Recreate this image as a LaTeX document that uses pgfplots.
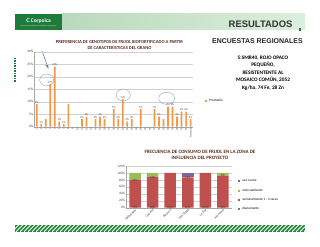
\documentclass[border=0pt]{standalone}
\usepackage{fontspec}
\setmainfont{Carlito}
\newfontfamily\arialf{Liberation Sans}
\usepackage{pgfplots}
\pgfplotsset{compat=1.18}
\definecolor{orangeb}{HTML}{F79646}
\definecolor{cred}{HTML}{C0504D}
\definecolor{cgreen}{HTML}{9BBB59}
\definecolor{cpurple}{HTML}{8064A2}
\definecolor{cblue}{HTML}{4F81BD}
\definecolor{hdrD}{HTML}{1E7B3C}
\definecolor{hdrL}{HTML}{B9D9BC}
\definecolor{hdrR}{HTML}{DCEEDD}
\definecolor{titc}{HTML}{5A2A1E}
\definecolor{tickc}{HTML}{404040}
\definecolor{ellc}{HTML}{8FA3C8}
\begin{document}
\begin{tikzpicture}[x=1bp,y=1bp]
\useasboundingbox (0,0) rectangle (320,247);
% header
\shade[left color=hdrL, right color=hdrR] (62,217) rectangle (305,233);
\fill[hdrD] (15,217) rectangle (62,233);
\node[white, font=\fontsize{5.5}{5.5}\selectfont\bfseries] at (38.5,226.5) {\textsf{C}\,Corpoica};
\node[white, font=\fontsize{1.6}{2}\selectfont] at (38.5,221) {Corporación Colombiana de Investigación Agropecuaria};
\node[font=\arialf\bfseries\fontsize{9.5}{10}\selectfont, text=black!80, anchor=east] at (296,222.5) {RESULTADOS};
\fill[hdrD] (298.5,216.3) rectangle (301,218.8);
\node[font=\arialf\bfseries\fontsize{7}{8}\selectfont, text=black!85] at (257.5,206.3) {ENCUESTAS REGIONALES};
% chart 1 title
\node[font=\bfseries\fontsize{4.6}{6}\selectfont, text=titc, align=center] at (119.5,202.3)
 {PREFERENCIA DE GENOTIPOS DE FRIJOL BIOFORTIFICADO A PARTIR\\DE CARACTERISTICAS DEL GRANO};
% right text
\node[font=\bfseries\fontsize{5.3}{7.5}\selectfont, align=center, anchor=north] at (263,194.5)
 {5:SMR40, ROJO OPACO\\PEQUEÑO,\\RESISTENTENTE AL\\MOSAICO COMÚN, 2052\\Kg/ha, 74 Fe, 28 Zn};
% decorations
\draw[hdrD, line width=1.3pt, dash pattern=on 1.5pt off 1pt] (15,189) -- (15,165);
\draw[-latex, cblue, line width=0.6pt] (42,196) -- (48.5,178);
% chart 1
\begin{axis}[at={(34.4bp,120.3bp)}, anchor=south west, scale only axis,
  width=158.5bp, height=75bp,
  ybar, bar width=1.7bp,
  xmin=0.5, xmax=35.5, ymin=0, ymax=30,
  ytick={0,5,...,30},
  yticklabel={\pgfmathprintnumber{\tick}\%},
  /pgf/number format/assume math mode=true,
  xtick={1,...,35},
  xticklabels={1,2,3,4,5,6,7,8,9,10,11,12,13,14,15,16,17,18,19,20,21,22,23,24,25,26,27,28,29,30,31,32,33,34,Promedio},
  xticklabel style={rotate=90, anchor=east, font=\fontsize{2.6}{3}\selectfont, text=tickc, inner sep=0.8pt},
  yticklabel style={font=\fontsize{3.4}{4}\selectfont, text=tickc, inner sep=1pt},
  major tick length=0pt,
  axis x line*=bottom, axis y line*=left,
  axis line style={black!35, line width=0.3pt},
  ymajorgrids, grid style={black!18, line width=0.3pt},
  nodes near coords, point meta=explicit symbolic,
  every node near coord/.append style={font=\fontsize{2.8}{3}\selectfont, text=black!75, inner sep=0.6pt},
  legend style={at={(1.076,0.343)}, anchor=west, draw=none, fill=none,
    font=\fontsize{3.4}{4}\selectfont, inner sep=0pt, cells={anchor=west}},
  legend image code/.code={\fill[#1, draw=none] (0bp,-1bp) rectangle (2bp,1bp);},
  clip=false]
\addplot[fill=orangeb, draw=none] coordinates {
 (1,9)[9\%] (2,1)[1\%] (3,3)[{}] (4,17)[17\%] (5,24)[24\%] (6,2)[2\%] (7,1)[1\%]
 (8,9)[{}] (9,0)[{}] (10,0)[{}] (11,3)[3\%] (12,4)[4\%] (13,0)[{}] (14,3)[3\%]
 (15,4)[4\%] (16,3)[3\%] (17,0)[{}] (18,7)[7\%] (19,3)[3\%] (20,11)[11\%] (21,2)[2\%]
 (22,3)[3\%] (23,0)[{}] (24,7)[7\%] (25,0)[{}] (26,0)[{}] (27,7)[7\%] (28,4)[4\%]
 (29,3)[{}] (30,8)[8\%] (31,8)[8\%] (32,4)[4\%] (33,6)[6\%] (34,6)[6\%] (35,3)[3\%]};
\addlegendentry{Promedio}
\end{axis}
% circles
\draw[ellc, line width=0.4pt] (46.7,167) ellipse (7bp and 6bp);
\draw[ellc, line width=0.4pt] (123.3,152) ellipse (7bp and 6bp);
\draw[ellc, line width=0.4pt] (166.7,148.7) ellipse (8bp and 6bp);
% chart 2 title
\node[font=\bfseries\fontsize{5}{5.8}\selectfont, text=titc, align=center] at (200,92.5)
 {FRECUENCIA DE CONSUMO DE FRIJOL EN LA ZONA DE\\INFLUENCIA DEL PROYECTO};
% chart 2
\begin{axis}[at={(126.2bp,39.3bp)}, anchor=south west, scale only axis,
  width=105.6bp, height=41.7bp,
  ybar stacked, bar width=11.5bp,
  xmin=-0.5, xmax=5.5, ymin=0, ymax=120,
  ytick={0,20,...,120},
  yticklabel={\pgfmathprintnumber{\tick}\%},
  /pgf/number format/assume math mode=true,
  xtick={0,...,5},
  xticklabels={Valledupar,Codazzi,Becerril,San Diego,La Paz,Manaure},
  xticklabel style={rotate=45, anchor=north east, font=\fontsize{3.4}{4}\selectfont, text=tickc, inner sep=0.5pt},
  yticklabel style={font=\fontsize{3.4}{4}\selectfont, text=tickc, inner sep=1pt},
  major tick length=0pt,
  axis x line*=bottom, axis y line*=left,
  axis line style={black!35, line width=0.3pt},
  ymajorgrids, grid style={black!18, line width=0.3pt},
  point meta=explicit symbolic,
  visualization depends on={rawy \as \rawy},
  every node near coord/.append style={font=\fontsize{3}{3.5}\selectfont, text=black!80, anchor=center,
     shift={(axis direction cs:0,-\rawy/2)}},
  legend style={at={(1.06,0.297)}, anchor=west, draw=none, fill=none,
    font=\fontsize{3.4}{4}\selectfont, inner sep=0pt, row sep=1.6bp, cells={anchor=west}},
  legend image code/.code={\fill[#1, draw=none] (0bp,-1bp) rectangle (2bp,1bp);},
  reverse legend,
  clip=false]
\addplot[fill=cblue, draw=none] coordinates {(0,0)[{}] (1,0)[{}] (2,0)[{}] (3,0)[{}] (4,0)[{}] (5,0)[{}]};
\addlegendentry{diariamente}
\addplot[fill=cred, draw=none, nodes near coords] coordinates {(0,79)[79\%] (1,88)[88\%] (2,100)[100\%] (3,87)[87\%] (4,100)[100\%] (5,92)[92\%]};
\addlegendentry{semanalmente 1 - 3 veces}
\addplot[fill=cgreen, draw=none, nodes near coords] coordinates {(0,21)[21\%] (1,12)[12\%] (2,0)[{}] (3,0)[{}] (4,0)[{}] (5,8)[8\%]};
\addlegendentry{mensualmente}
\addplot[fill=cpurple, draw=none, nodes near coords] coordinates {(0,0)[{}] (1,0)[{}] (2,0)[{}] (3,13)[13\%] (4,0)[{}] (5,0)[{}]};
\addlegendentry{casi nunca}
\end{axis}
% bottom stripe
\fill[hdrD!90!green] (15,15.3) rectangle (305,22);
\begin{scope}
\clip (15,15.3) rectangle (305,22);
\foreach \i in {0,4,...,296} \draw[white, line width=0.9pt] (12+\i,15.3) -- ++(6.7,6.7);
\end{scope}
\end{tikzpicture}
\end{document}
